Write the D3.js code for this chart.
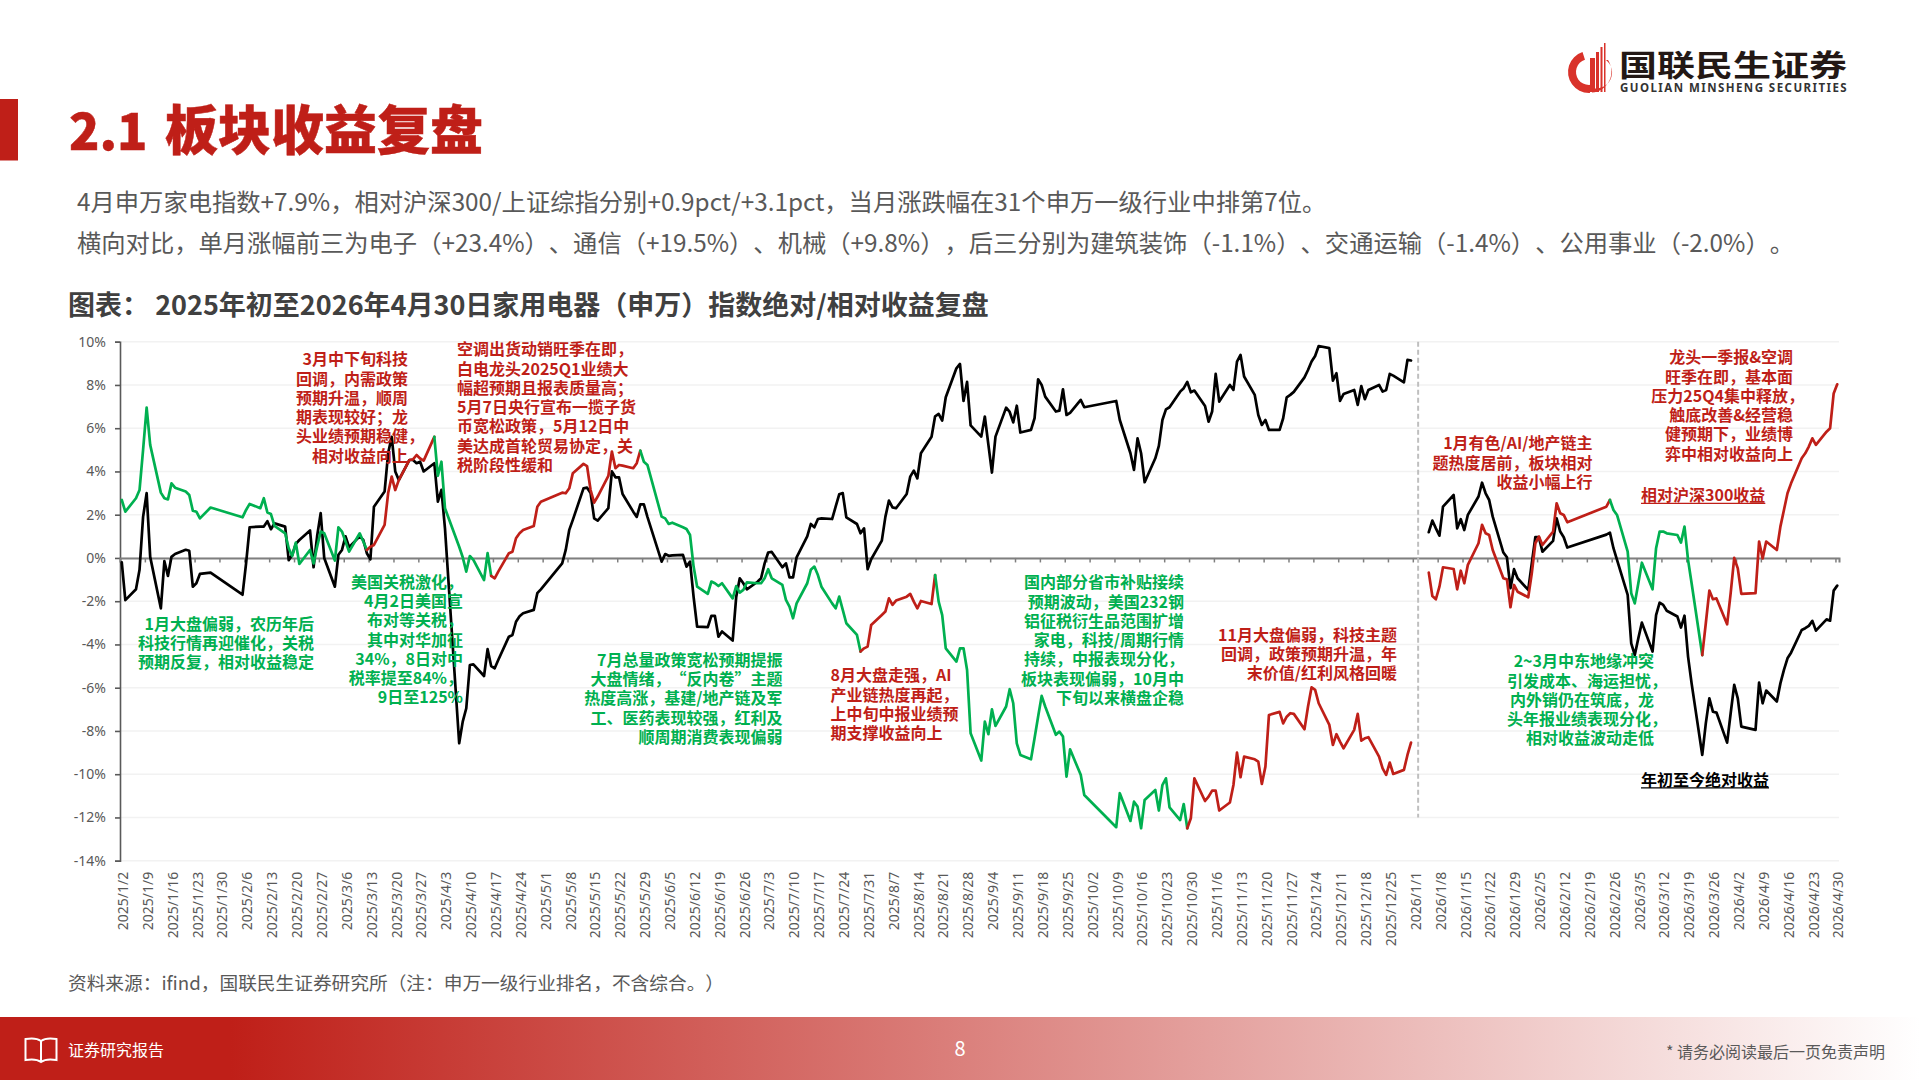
<!DOCTYPE html>
<html lang="zh-CN">
<head>
<meta charset="utf-8">
<title>板块收益复盘</title>
<script src="https://cdnjs.cloudflare.com/ajax/libs/d3/7.9.0/d3.min.js"></script>
<style>
  html, body { margin: 0; padding: 0; background: #fff; }
  svg { display: block; }
  text { font-family: "Noto Sans CJK SC", "Noto Sans", sans-serif; text-spacing-trim: space-all; }
  .axis text { font-family: "Noto Sans", "Noto Sans CJK SC", sans-serif; font-size: 14px; fill: #595959; }
  .note { font-size: 16px; font-weight: 700; }
</style>
</head>
<body>
<svg id="page" width="1920" height="1080" viewBox="0 0 1920 1080"></svg>
<script>
// ---- Trading days of 2025, one row per month ----
const dates2025 = [
  "2025-01-02","2025-01-03","2025-01-06","2025-01-07","2025-01-08","2025-01-09","2025-01-10","2025-01-13","2025-01-14","2025-01-15","2025-01-16","2025-01-17","2025-01-20","2025-01-21","2025-01-22","2025-01-23","2025-01-24","2025-01-27",
  "2025-02-05","2025-02-06","2025-02-07","2025-02-10","2025-02-11","2025-02-12","2025-02-13","2025-02-14","2025-02-17","2025-02-18","2025-02-19","2025-02-20","2025-02-21","2025-02-24","2025-02-25","2025-02-26","2025-02-27","2025-02-28",
  "2025-03-03","2025-03-04","2025-03-05","2025-03-06","2025-03-07","2025-03-10","2025-03-11","2025-03-12","2025-03-13","2025-03-14","2025-03-17","2025-03-18","2025-03-19","2025-03-20","2025-03-21","2025-03-24","2025-03-25","2025-03-26","2025-03-27","2025-03-28","2025-03-31",
  "2025-04-01","2025-04-02","2025-04-03","2025-04-07","2025-04-08","2025-04-09","2025-04-10","2025-04-11","2025-04-14","2025-04-15","2025-04-16","2025-04-17","2025-04-18","2025-04-21","2025-04-22","2025-04-23","2025-04-24","2025-04-25","2025-04-28","2025-04-29","2025-04-30",
  "2025-05-06","2025-05-07","2025-05-08","2025-05-09","2025-05-12","2025-05-13","2025-05-14","2025-05-15","2025-05-16","2025-05-19","2025-05-20","2025-05-21","2025-05-22","2025-05-23","2025-05-26","2025-05-27","2025-05-28","2025-05-29","2025-05-30",
  "2025-06-03","2025-06-04","2025-06-05","2025-06-06","2025-06-09","2025-06-10","2025-06-11","2025-06-12","2025-06-13","2025-06-16","2025-06-17","2025-06-18","2025-06-19","2025-06-20","2025-06-23","2025-06-24","2025-06-25","2025-06-26","2025-06-27","2025-06-30",
  "2025-07-01","2025-07-02","2025-07-03","2025-07-04","2025-07-07","2025-07-08","2025-07-09","2025-07-10","2025-07-11","2025-07-14","2025-07-15","2025-07-16","2025-07-17","2025-07-18","2025-07-21","2025-07-22","2025-07-23","2025-07-24","2025-07-25","2025-07-28","2025-07-29","2025-07-30","2025-07-31",
  "2025-08-01","2025-08-04","2025-08-05","2025-08-06","2025-08-07","2025-08-08","2025-08-11","2025-08-12","2025-08-13","2025-08-14","2025-08-15","2025-08-18","2025-08-19","2025-08-20","2025-08-21","2025-08-22","2025-08-25","2025-08-26","2025-08-27","2025-08-28","2025-08-29",
  "2025-09-01","2025-09-02","2025-09-03","2025-09-04","2025-09-05","2025-09-08","2025-09-09","2025-09-10","2025-09-11","2025-09-12","2025-09-15","2025-09-16","2025-09-17","2025-09-18","2025-09-19","2025-09-22","2025-09-23","2025-09-24","2025-09-25","2025-09-26","2025-09-29","2025-09-30",
  "2025-10-09","2025-10-10","2025-10-13","2025-10-14","2025-10-15","2025-10-16","2025-10-17","2025-10-20","2025-10-21","2025-10-22","2025-10-23","2025-10-24","2025-10-27","2025-10-28","2025-10-29","2025-10-30","2025-10-31",
  "2025-11-03","2025-11-04","2025-11-05","2025-11-06","2025-11-07","2025-11-10","2025-11-11","2025-11-12","2025-11-13","2025-11-14","2025-11-17","2025-11-18","2025-11-19","2025-11-20","2025-11-21","2025-11-24","2025-11-25","2025-11-26","2025-11-27","2025-11-28",
  "2025-12-01","2025-12-02","2025-12-03","2025-12-04","2025-12-05","2025-12-08","2025-12-09","2025-12-10","2025-12-11","2025-12-12","2025-12-15","2025-12-16","2025-12-17","2025-12-18","2025-12-19","2025-12-22","2025-12-23","2025-12-24","2025-12-25","2025-12-26","2025-12-29","2025-12-30","2025-12-31"
];

// Year-to-date absolute return of the index, percent
const absolute2025 = [
  -0.2,-1.95,-1.45,-0.55,1.9,3.0,0.05,-2.33,-0.15,-0.83,0.05,0.18,0.38,0.33,-1.33,-1.17,-0.74,-0.68,
  -1.7,-0.25,1.42,1.45,1.45,1.7,1.33,1.6,1.45,-0.1,0.14,0.65,0.83,1.27,-0.43,1.0,2.07,0.0,
  -1.33,0.15,0.37,1.0,0.5,1.0,0.83,0.22,-0.06,2.37,3.07,4.85,5.6,4.0,3.6,4.53,4.53,4.38,4.45,4.0,4.38,
  2.6,3.15,1.37,-8.57,-7.57,-6.95,-4.95,-4.92,-5.46,-4.22,-5.0,-5.1,-4.72,-3.64,-3.56,-2.95,-2.7,-2.56,-2.4,-1.63,-1.45,
  -0.25,0.37,1.3,1.76,3.22,3.25,3.0,1.83,1.73,2.3,4.0,3.73,3.73,2.96,2.14,1.9,2.48,2.48,1.9,
  -0.17,0.18,0.1,0.12,0.14,-0.4,-0.17,-1.8,-3.18,-3.2,-2.68,-2.68,-3.64,-3.4,-3.82,-1.8,-0.94,-1.17,-1.45,-1.1,
  -0.94,-0.25,0.25,0.28,-0.43,-0.25,-0.9,-0.9,0.03,1.0,1.57,1.42,1.8,1.83,1.8,2.37,2.94,3.0,1.88,1.57,1.14,1.37,-0.52,
  -0.06,0.8,1.9,2.65,2.34,2.3,2.96,3.76,4.04,3.68,4.84,5.6,6.55,6.66,6.35,7.43,8.77,8.97,7.26,8.14,6.13,
  5.61,6.54,5.24,3.95,5.61,6.95,6.75,6.27,7.04,5.8,5.92,6.46,8.26,8.0,7.46,6.77,6.81,7.8,6.61,6.71,7.31,6.97,
  7.26,6.38,4.84,4.07,5.53,4.84,3.5,4.61,5.18,6.38,6.87,6.97,7.69,7.85,8.14,7.66,7.74,
  7.03,6.3,6.77,8.51,7.23,8.0,7.77,9.08,9.39,8.39,7.54,6.61,6.15,6.38,5.92,5.92,6.46,7.43,7.54,7.68,
  8.35,8.69,9.08,9.34,9.8,9.7,8.2,8.54,7.26,7.58,7.77,7.08,7.95,7.34,7.77,8.0,7.69,7.77,8.51,8.43,8.12,9.16,9.13
];

// Return relative to the CSI 300, percent
const relative2025 = [
  2.68,2.14,2.76,3.14,5.0,6.95,5.23,3.02,2.76,2.71,3.45,3.25,3.07,2.91,2.19,2.14,1.83,2.33,
  1.88,2.22,2.5,2.3,2.76,2.1,2.03,1.48,1.14,0.45,0.09,0.71,-0.28,0.37,-0.25,0.52,1.22,1.14,
  -0.12,1.42,1.22,0.76,0.29,1.14,0.76,0.37,0.52,0.6,1.53,3.0,3.76,3.14,3.6,4.53,4.56,4.76,4.6,4.5,5.6,
  3.8,4.45,2.3,0.52,0.03,-0.63,0.09,-0.09,-1.02,0.22,-0.83,-0.94,-0.63,0.22,0.29,0.91,1.14,1.29,1.48,2.37,2.6,
  3.02,2.99,3.22,3.92,4.35,4.25,3.14,2.56,2.84,3.79,4.92,4.15,4.3,4.27,4.15,4.38,4.96,4.45,4.3,
  1.91,1.83,1.57,1.63,1.42,1.34,1.06,-0.4,-1.33,-1.66,-1.09,-1.17,-1.3,-1.17,-1.87,-1.3,-1.6,-1.48,-1.13,-1.17,
  -1.17,-0.94,-0.52,-0.94,-1.25,-1.94,-2.25,-2.79,-2.1,-1.17,-0.55,-0.4,-0.79,-1.33,-2.1,-2.33,-1.79,-2.4,-3.02,-3.56,-4.33,-4.18,-4.1,
  -3.1,-2.64,-2.48,-1.87,-2.17,-1.97,-1.79,-1.66,-2.02,-2.33,-1.99,-2.13,-0.79,-2.02,-2.64,-4.18,-4.79,-4.18,-4.18,-5.18,-8.11,
  -9.37,-7.57,-8.15,-7.0,-7.77,-6.87,-6.07,-6.72,-8.57,-9.11,-9.31,-8.34,-7.34,-6.38,-6.87,-8.18,-8.03,-8.26,-10.11,-8.85,-10.03,-10.96,
  -12.45,-10.88,-12.16,-11.27,-11.5,-12.5,-11.19,-10.73,-11.68,-10.5,-10.19,-11.53,-12.12,-11.38,-12.5,-12.04,-10.19,
  -11.24,-11.04,-10.76,-10.76,-11.68,-11.31,-10.5,-9.0,-10.14,-9.19,-9.31,-9.42,-10.45,-9.65,-7.26,-7.12,-7.65,-7.34,-7.18,-7.21,
  -7.92,-6.87,-5.98,-6.1,-6.72,-7.72,-8.65,-8.15,-8.49,-8.8,-7.95,-7.21,-8.45,-8.34,-8.29,-9.19,-9.73,-10.03,-9.46,-9.99,-9.8,-9.11,-8.54
];

// ---- Trading days of 2026 to date ----
const dates2026 = [
  "2026-01-05","2026-01-06","2026-01-07","2026-01-08","2026-01-09","2026-01-12","2026-01-13","2026-01-14","2026-01-15","2026-01-16","2026-01-19","2026-01-20","2026-01-21","2026-01-22","2026-01-23","2026-01-26","2026-01-27","2026-01-28","2026-01-29","2026-01-30",
  "2026-02-02","2026-02-03","2026-02-04","2026-02-05","2026-02-06","2026-02-09","2026-02-10","2026-02-11","2026-02-12","2026-02-13","2026-02-24","2026-02-25","2026-02-26","2026-02-27",
  "2026-03-02","2026-03-03","2026-03-04","2026-03-05","2026-03-06","2026-03-09","2026-03-10","2026-03-11","2026-03-12","2026-03-13","2026-03-16","2026-03-17","2026-03-18","2026-03-19","2026-03-20","2026-03-23","2026-03-24","2026-03-25","2026-03-26","2026-03-27","2026-03-30","2026-03-31",
  "2026-04-01","2026-04-02","2026-04-03","2026-04-07","2026-04-08","2026-04-09","2026-04-10","2026-04-13","2026-04-14","2026-04-15","2026-04-16","2026-04-17","2026-04-20","2026-04-21","2026-04-22","2026-04-23","2026-04-24","2026-04-27","2026-04-28","2026-04-29","2026-04-30"
];
const absolute2026 = [
  1.19,1.73,1.37,1.03,2.37,2.91,1.37,1.79,1.29,1.99,2.84,3.48,2.99,2.68,1.91,0.25,0.03,-1.4,-0.52,-0.94,
  -1.48,-0.25,0.96,0.96,0.29,0.79,1.83,1.22,0.96,0.48,1.08,1.17,0.45,-0.09,
  -1.71,-3.95,-4.49,-3.71,-2.99,-4.33,-2.64,-2.07,-2.17,-2.44,-2.71,-3.22,-2.67,-4.56,-5.8,-9.11,-7.65,-6.49,-7.11,-7.15,-8.54,-7.18,
  -5.87,-6.49,-7.8,-7.95,-5.76,-6.72,-6.13,-6.64,-5.8,-5.18,-4.64,-4.38,-3.33,-3.25,-3.14,-2.91,-3.36,-2.84,-2.9,-1.51,-1.28
];
const relative2026 = [
  -0.68,-1.76,-1.91,-1.33,-0.43,-0.51,-1.45,-0.59,-1.17,-0.32,0.68,1.53,1.14,1.06,0.37,-0.94,-0.99,-2.28,-1.25,-1.56,
  -1.82,-0.71,0.68,0.99,0.6,1.22,2.53,2.07,1.99,1.65,2.37,2.68,2.22,1.99,
  0.29,-1.63,-2.1,-1.17,-0.22,-1.45,0.45,1.22,1.22,1.14,1.06,0.71,1.45,-0.09,-1.17,-4.49,-3.02,-1.51,-1.91,-1.87,-3.07,-1.63,
  0,-0.48,-1.66,-1.63,0.76,-0.02,0.76,0.37,1.45,2.22,2.99,3.45,4.61,4.84,5.15,5.53,5.23,5.84,6.0,7.61,8.03
];

// Phases of the relative line: rising stretches in red, falling stretches in green
const phaseStarts = ["2025-01-02","2025-03-12","2025-03-31","2025-04-16","2025-05-28","2025-07-29","2025-08-19","2025-10-29","2026-01-05","2026-02-25","2026-03-23"];
const phaseEnds   = ["2025-03-12","2025-03-31","2025-04-16","2025-05-28","2025-07-29","2025-08-19","2025-10-29","2025-12-31","2026-02-25","2026-03-23","2026-04-30"];
const phaseTrends = ["down","up","down","up","down","up","down","up","up","down","up"];

const yTicks = [10,8,6,4,2,0,-2,-4,-6,-8,-10,-12,-14];
const weeksOnAxis = 70;

// Commentary placed over the plot
const noteTexts = [
  ["1月大盘偏弱，农历年后","科技行情再迎催化，关税","预期反复，相对收益稳定"],
  ["3月中下旬科技","回调，内需政策","预期升温，顺周","期表现较好；龙","头业绩预期稳健，","相对收益向上"],
  ["空调出货动销旺季在即，","白电龙头2025Q1业绩大","幅超预期且报表质量高；","5月7日央行宣布一揽子货","币宽松政策，5月12日中","美达成首轮贸易协定，关","税阶段性缓和"],
  ["美国关税激化，","4月2日美国宣","布对等关税，","其中对华加征","34%，8日对中","税率提至84%，","9日至125%"],
  ["7月总量政策宽松预期提振","大盘情绪，“反内卷”主题","热度高涨，基建/地产链及军","工、医药表现较强，红利及","顺周期消费表现偏弱"],
  ["8月大盘走强，AI","产业链热度再起，","上中旬中报业绩预","期支撑收益向上"],
  ["国内部分省市补贴接续","预期波动，美国232钢","铝征税衍生品范围扩增","家电，科技/周期行情","持续，中报表现分化，","板块表现偏弱，10月中","下旬以来横盘企稳"],
  ["11月大盘偏弱，科技主题","回调，政策预期升温，年","末价值/红利风格回暖"],
  ["1月有色/AI/地产链主","题热度居前，板块相对","收益小幅上行"],
  ["龙头一季报&空调","旺季在即，基本面","压力25Q4集中释放，","触底改善&经营稳","健预期下，业绩博","弈中相对收益向上"],
  ["2~3月中东地缘冲突","引发成本、海运担忧，","内外销仍在筑底，龙","头年报业绩表现分化，","相对收益波动走低"]
];
const noteTones = ["g","r","r","g","g","r","g","r","r","r","g"];
const noteAnchors = ["end","end","start","end","end","start","end","end","end","end","end"];
const noteLefts = [314,408,457,463,782.5,830.5,1184,1397,1592.5,1793,1654];
const noteFirstLines = [624,359.5,349.5,582,660,675.5,582.5,635,443.5,357.5,661.5];
// Lines whose closing comma hangs past the text edge: [note, line, shift]
const noteHangs = [[1,4,16],[9,2,11],[10,1,13],[10,3,13]];

// ---- Page geometry ----
const RED = "#BF1F18", GREEN = "#00B050", GRID = "#F2F2F2", AXIS = "#7F7F7F";
const W = 1920, H = 1080;
const plot = { left: 120, right: 1839, top: 341.7, bottom: 860.7 };

const parse = d3.utcParse("%Y-%m-%d");
const fmtTick = d3.utcFormat("%Y/%-m/%-d");
const firstDay = parse("2025-01-02");

[[dates2025, absolute2025, relative2025], [dates2026, absolute2026, relative2026]].forEach(([a, b, c]) => {
  if (a.length !== b.length || a.length !== c.length) throw new Error("series length mismatch " + [a.length, b.length, c.length]);
});

const x = d3.scaleUtc().domain([firstDay, parse("2026-05-01")]).range([plot.left, plot.right]);
const y = d3.scaleLinear().domain([10, -14]).range([plot.top, plot.bottom]);
// A day occupies a band on the date axis; values sit in the middle of it
const midDay = d => d3.utcHour.offset(d, 12);

const svg = d3.select("#page");
const defs = svg.append("defs");

const footerFill = defs.append("linearGradient").attr("id", "footerFill");
[[0, RED], [0.12, RED], [1, "#FFFFFF"]].forEach(([o, c]) =>
  footerFill.append("stop").attr("offset", o).attr("stop-color", c));

// ---- Slide furniture ----
svg.append("rect").attr("width", W).attr("height", H).attr("fill", "#fff");
svg.append("rect").attr("x", 0).attr("y", 99).attr("width", 18).attr("height", 61.5).attr("fill", RED);
const heading = svg.append("text").attr("y", 150).attr("font-weight", 900).attr("fill", RED)
  .attr("stroke", RED).attr("stroke-width", 0.5);
heading.append("tspan").attr("x", 69).attr("font-size", 50).text("2.1");
heading.append("tspan").attr("x", 165).attr("font-size", 53).text("板块收益复盘");

const bodyLines = [
  ["4月申万家电指数+7.9%，相对沪深300/上证综指分别+0.9pct/+3.1pct，当月涨跌幅在31个申万一级行业中排第7位。", 202],
  ["横向对比，单月涨幅前三为电子（+23.4%）、通信（+19.5%）、机械（+9.8%），后三分别为建筑装饰（-1.1%）、交通运输（-1.4%）、公用事业（-2.0%）。", 243]
];
bodyLines.forEach(([t, cy]) => svg.append("text").attr("x", 77).attr("y", cy).attr("dy", "0.36em")
  .attr("font-size", 24.3).attr("fill", "#595959").text(t));

svg.append("text").attr("x", 68).attr("y", 305).attr("dy", "0.36em").attr("font-size", 27)
  .attr("font-weight", 700).attr("fill", "#404040")
  .text("图表： 2025年初至2026年4月30日家用电器（申万）指数绝对/相对收益复盘");

svg.append("text").attr("x", 68).attr("y", 983).attr("dy", "0.36em").attr("font-size", 18.7)
  .attr("fill", "#595959").text("资料来源：ifind，国联民生证券研究所（注：申万一级行业排名，不含综合。）");

// ---- Logo ----
const logo = svg.append("g");
const ringArc = d3.arc().innerRadius(13).outerRadius(21).startAngle(-0.1 * Math.PI).endAngle(-1.9 * Math.PI);
logo.append("path").attr("transform", "translate(1589,72)").attr("d", ringArc).attr("fill", "#D9322A");
logo.append("rect").attr("x", 1590).attr("y", 48).attr("width", 22).attr("height", 46).attr("fill", "#fff");
const logoBars = [[1590, 58, 5], [1596, 52, 3], [1600.5, 47, 2], [1604, 43, 1.5]];
logoBars.forEach(([bx, by, bw]) => logo.append("rect").attr("x", bx).attr("y", by)
  .attr("width", bw).attr("height", 92 - by).attr("fill", "#D9322A"));
logo.append("path").attr("d", "M1608,60 A21,21 0 0 1 1592,92.5 L1592,88 A16,16 0 0 0 1606,60 Z").attr("fill", "#D9322A");
logo.append("text").attr("transform", "translate(1619,65.5) scale(1,0.78)").attr("dy", "0.36em").attr("font-size", 38)
  .attr("font-weight", 700).attr("fill", "#231815").text("国联民生证券");
logo.append("text").attr("x", 1620).attr("y", 88).attr("dy", "0.36em").attr("font-size", 11.5)
  .attr("font-weight", 700).attr("letter-spacing", "1.45px").attr("fill", "#333")
  .style("font-family", "'Noto Sans', sans-serif").text("GUOLIAN MINSHENG SECURITIES");

// ---- Footer band ----
svg.append("rect").attr("x", 0).attr("y", 1017).attr("width", W).attr("height", 63).attr("fill", "url(#footerFill)");
svg.append("path").attr("fill", "none").attr("stroke", "#fff").attr("stroke-width", 2)
  .attr("d", "M41,1041 C37,1038 31,1038 25.5,1039 L25.5,1060 C31,1059 37,1059 41,1062 C45,1059 51,1059 56.5,1060 L56.5,1039 C51,1038 45,1038 41,1041 Z M41,1041 L41,1062");
svg.append("text").attr("x", 68).attr("y", 1050).attr("dy", "0.36em").attr("font-size", 16)
  .attr("fill", "#fff").text("证券研究报告");
svg.append("text").attr("x", 960).attr("y", 1049).attr("dy", "0.36em").attr("text-anchor", "middle")
  .attr("font-size", 20).attr("fill", "#fff").text("8");
svg.append("text").attr("x", 1885).attr("y", 1052).attr("dy", "0.36em").attr("text-anchor", "end")
  .attr("font-size", 16).attr("fill", "#595959").text("* 请务必阅读最后一页免责声明");

// ---- Grid and axes ----
svg.append("g").selectAll("line").data(yTicks).join("line")
  .attr("x1", plot.left).attr("x2", plot.right)
  .attr("y1", d => y(d)).attr("y2", d => y(d))
  .attr("stroke", GRID).attr("stroke-width", 1.5);

const weeklyTicks = d3.range(weeksOnAxis).map(i => d3.utcDay.offset(firstDay, i * 7));

const yAxis = svg.append("g").attr("class", "axis").attr("transform", `translate(${plot.left},0)`)
  .call(d3.axisLeft(y).tickValues(yTicks).tickFormat(d => d + "%").tickSize(5).tickPadding(9));
yAxis.selectAll("path,line").attr("stroke", "#595959").attr("stroke-width", 1.6);

// Tick marks sit on the zero line
const zeroAxis = svg.append("g").attr("class", "axis").attr("transform", `translate(0,${y(0)})`)
  .call(d3.axisBottom(x).tickValues(weeklyTicks).tickSize(4.5).tickFormat(""));
zeroAxis.selectAll("path,line").attr("stroke", AXIS).attr("stroke-width", 1.5);
zeroAxis.select("path").attr("stroke-width", 2);

// Date labels hang below the plot, read bottom to top
const dateAxis = svg.append("g").attr("class", "axis").attr("transform", `translate(0,${plot.bottom})`)
  .call(d3.axisBottom(x).tickValues(weeklyTicks).tickSize(0).tickFormat(fmtTick));
dateAxis.select("path").remove();
dateAxis.selectAll("text")
  .attr("transform", "rotate(-90)")
  .attr("text-anchor", "end")
  .attr("x", -11).attr("y", 2.5).attr("dy", "0.36em");

// Divider between the two calendar years
const yearBreak = x(midDay(parse("2026-01-02")));
svg.append("line")
  .attr("x1", yearBreak).attr("x2", yearBreak)
  .attr("y1", y(10)).attr("y2", y(-12))
  .attr("stroke", "#BFBFBF").attr("stroke-width", 2).attr("stroke-dasharray", "5 3");

// ---- Lines ----
const toPoints = (dates, vals) => dates.map((d, i) => ({ date: parse(d), value: vals[i] }));
const line = d3.line().x(d => x(midDay(d.date))).y(d => y(d.value)).curve(d3.curveLinear);

const marks = svg.append("g").attr("fill", "none").attr("stroke-width", 2.7)
  .attr("stroke-linejoin", "round").attr("stroke-linecap", "round");

[toPoints(dates2025, absolute2025), toPoints(dates2026, absolute2026)].forEach(pts =>
  marks.append("path").attr("d", line(pts)).attr("stroke", "#000"));

const relPoints = toPoints(dates2025.concat(dates2026), relative2025.concat(relative2026));
phaseStarts.forEach((s, i) => {
  const from = parse(s), to = parse(phaseEnds[i]);
  const pts = relPoints.filter(p => p.date >= from && p.date <= to);
  marks.append("path").attr("d", line(pts)).attr("stroke", phaseTrends[i] === "up" ? RED : GREEN);
});

// ---- Commentary ----
const LINE_STEP = 19.25;
const noteColor = { g: GREEN, r: RED };
const notes = svg.append("g").attr("class", "notes");
noteTexts.forEach((rows, n) => {
  const block = notes.append("g").attr("fill", noteColor[noteTones[n]]).attr("text-anchor", noteAnchors[n]);
  rows.forEach((row, i) => {
    const hang = noteHangs.find(h => h[0] === n && h[1] === i);
    block.append("text").attr("class", "note")
      .attr("x", noteLefts[n] + (hang ? hang[2] : 0))
      .attr("y", noteFirstLines[n] + i * LINE_STEP).attr("dy", "0.36em").text(row);
  });
});

// Series captions with an underline
const captions = [["相对沪深300收益", RED, 495.5], ["年初至今绝对收益", "#000", 780]];
captions.forEach(([label, colour, cy]) => {
  const t = notes.append("text").attr("class", "note").attr("x", 1641).attr("y", cy).attr("dy", "0.36em")
    .attr("fill", colour).text(label);
  const len = t.node().getComputedTextLength();
  notes.append("line").attr("x1", 1641).attr("x2", 1641 + len).attr("y1", cy + 7.8).attr("y2", cy + 7.8)
    .attr("stroke", colour).attr("stroke-width", 1.2);
});
</script>
</body>
</html>
